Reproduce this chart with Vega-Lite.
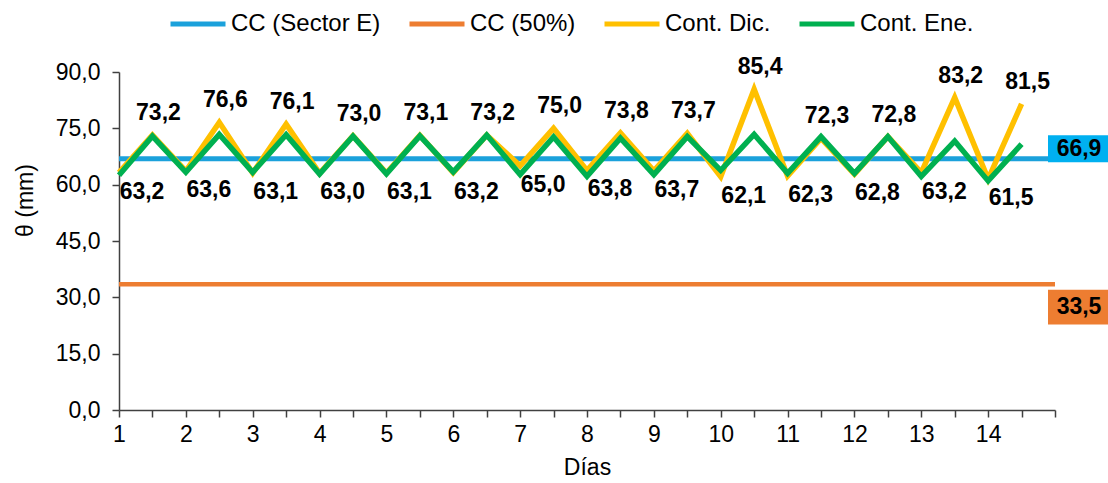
{
  "$schema": "https://vega.github.io/schema/vega-lite/v6.json",
  "width": 936,
  "height": 338,
  "autosize": "none",
  "padding": {"left": 119, "top": 72, "right": 53, "bottom": 73},
  "background": "white",
  "config": {
    "view": {"stroke": null},
    "font": "Liberation Sans",
    "locale": {"number": {"decimal": ",", "thousands": ".", "grouping": [3], "currency": ["", " €"]}}
  },
  "data": {
    "values": [
      {"serie": "CC (Sector E)", "dia": 1, "valor": 66.9},
      {"serie": "CC (Sector E)", "dia": 15, "valor": 66.9},
      {"serie": "CC (50%)", "dia": 1, "valor": 33.5},
      {"serie": "CC (50%)", "dia": 15, "valor": 33.5},
      {"serie": "Cont. Dic.", "dia": 1, "valor": 63.2},
      {"serie": "Cont. Dic.", "dia": 1.5, "valor": 73.2},
      {"serie": "Cont. Dic.", "dia": 2, "valor": 63.6},
      {"serie": "Cont. Dic.", "dia": 2.5, "valor": 76.6},
      {"serie": "Cont. Dic.", "dia": 3, "valor": 63.1},
      {"serie": "Cont. Dic.", "dia": 3.5, "valor": 76.1},
      {"serie": "Cont. Dic.", "dia": 4, "valor": 63.0},
      {"serie": "Cont. Dic.", "dia": 4.5, "valor": 73.0},
      {"serie": "Cont. Dic.", "dia": 5, "valor": 63.1},
      {"serie": "Cont. Dic.", "dia": 5.5, "valor": 73.1},
      {"serie": "Cont. Dic.", "dia": 6, "valor": 63.2},
      {"serie": "Cont. Dic.", "dia": 6.5, "valor": 73.2},
      {"serie": "Cont. Dic.", "dia": 7, "valor": 65.0},
      {"serie": "Cont. Dic.", "dia": 7.5, "valor": 75.0},
      {"serie": "Cont. Dic.", "dia": 8, "valor": 63.8},
      {"serie": "Cont. Dic.", "dia": 8.5, "valor": 73.8},
      {"serie": "Cont. Dic.", "dia": 9, "valor": 63.7},
      {"serie": "Cont. Dic.", "dia": 9.5, "valor": 73.7},
      {"serie": "Cont. Dic.", "dia": 10, "valor": 62.1},
      {"serie": "Cont. Dic.", "dia": 10.5, "valor": 85.4},
      {"serie": "Cont. Dic.", "dia": 11, "valor": 62.3},
      {"serie": "Cont. Dic.", "dia": 11.5, "valor": 72.3},
      {"serie": "Cont. Dic.", "dia": 12, "valor": 62.8},
      {"serie": "Cont. Dic.", "dia": 12.5, "valor": 72.8},
      {"serie": "Cont. Dic.", "dia": 13, "valor": 63.2},
      {"serie": "Cont. Dic.", "dia": 13.5, "valor": 83.2},
      {"serie": "Cont. Dic.", "dia": 14, "valor": 61.5},
      {"serie": "Cont. Dic.", "dia": 14.5, "valor": 81.5},
      {"serie": "Cont. Ene.", "dia": 1, "valor": 62.5},
      {"serie": "Cont. Ene.", "dia": 1.5, "valor": 72.9},
      {"serie": "Cont. Ene.", "dia": 2, "valor": 63.3},
      {"serie": "Cont. Ene.", "dia": 2.5, "valor": 73.4},
      {"serie": "Cont. Ene.", "dia": 3, "valor": 63.3},
      {"serie": "Cont. Ene.", "dia": 3.5, "valor": 73.3},
      {"serie": "Cont. Ene.", "dia": 4, "valor": 62.8},
      {"serie": "Cont. Ene.", "dia": 4.5, "valor": 72.9},
      {"serie": "Cont. Ene.", "dia": 5, "valor": 62.9},
      {"serie": "Cont. Ene.", "dia": 5.5, "valor": 73.0},
      {"serie": "Cont. Ene.", "dia": 6, "valor": 63.4},
      {"serie": "Cont. Ene.", "dia": 6.5, "valor": 73.2},
      {"serie": "Cont. Ene.", "dia": 7, "valor": 62.7},
      {"serie": "Cont. Ene.", "dia": 7.5, "valor": 72.7},
      {"serie": "Cont. Ene.", "dia": 8, "valor": 62.2},
      {"serie": "Cont. Ene.", "dia": 8.5, "valor": 72.4},
      {"serie": "Cont. Ene.", "dia": 9, "valor": 62.7},
      {"serie": "Cont. Ene.", "dia": 9.5, "valor": 72.8},
      {"serie": "Cont. Ene.", "dia": 10, "valor": 63.8},
      {"serie": "Cont. Ene.", "dia": 10.5, "valor": 73.4},
      {"serie": "Cont. Ene.", "dia": 11, "valor": 63.0},
      {"serie": "Cont. Ene.", "dia": 11.5, "valor": 72.8},
      {"serie": "Cont. Ene.", "dia": 12, "valor": 63.0},
      {"serie": "Cont. Ene.", "dia": 12.5, "valor": 72.8},
      {"serie": "Cont. Ene.", "dia": 13, "valor": 62.2},
      {"serie": "Cont. Ene.", "dia": 13.5, "valor": 71.6},
      {"serie": "Cont. Ene.", "dia": 14, "valor": 61.0},
      {"serie": "Cont. Ene.", "dia": 14.5, "valor": 70.8}
    ]
  },
  "encoding": {
    "x": {
      "field": "dia", "type": "quantitative",
      "scale": {"domain": [1, 15], "nice": false, "zero": false},
      "axis": {
        "title": "Días",
        "values": [1, 1.5, 2, 2.5, 3, 3.5, 4, 4.5, 5, 5.5, 6, 6.5, 7, 7.5, 8, 8.5, 9, 9.5, 10, 10.5, 11, 11.5, 12, 12.5, 13, 13.5, 14, 14.5, 15],
        "labelExpr": "(datum.value % 1 == 0 && datum.value < 15) ? datum.value : ''",
        "grid": false,
        "domainColor": "#404040", "domainWidth": 1.5,
        "tickColor": "#404040", "tickWidth": 1.5, "tickSize": 7,
        "labelFont": "Liberation Sans", "labelFontSize": 23, "labelColor": "#000000", "labelPadding": 6,
        "labelFlush": false, "labelOverlap": false,
        "titleFont": "Liberation Sans", "titleFontSize": 23, "titleFontWeight": "normal", "titleColor": "#000000", "titlePadding": 10
      }
    },
    "y": {
      "field": "valor", "type": "quantitative",
      "scale": {"domain": [0, 90], "nice": false},
      "axis": {
        "title": "θ (mm)",
        "values": [0, 15, 30, 45, 60, 75, 90],
        "format": ".1f",
        "grid": false,
        "domainColor": "#404040", "domainWidth": 1.5,
        "tickColor": "#404040", "tickWidth": 1.5, "tickSize": 7,
        "labelFont": "Liberation Sans", "labelFontSize": 23, "labelColor": "#000000", "labelPadding": 12,
        "titleFont": "Liberation Sans", "titleFontSize": 23, "titleFontWeight": "normal", "titleColor": "#000000",
        "titleX": -82, "titleY": 128
      }
    }
  },
  "layer": [
    {
      "transform": [{"filter": "datum.serie == 'CC (Sector E)'"}],
      "mark": {"type": "line", "strokeWidth": 5},
      "encoding": {
        "color": {
          "field": "serie", "type": "nominal",
          "scale": {"domain": ["CC (Sector E)", "CC (50%)", "Cont. Dic.", "Cont. Ene."], "range": ["#1BA1DB", "#ED7D31", "#FFC000", "#00B050"]},
          "legend": {
            "title": null, "orient": "none", "direction": "horizontal",
            "legendX": 49, "legendY": -78,
            "symbolType": "stroke", "symbolSize": 3025, "symbolStrokeWidth": 5,
            "labelFont": "Liberation Sans", "labelFontSize": 24, "labelColor": "#000000", "labelOffset": 3,
            "columnPadding": 18, "padding": 0, "labelLimit": 300
          }
        }
      }
    },
    {
      "transform": [{"filter": "datum.serie == 'CC (50%)'"}],
      "mark": {"type": "line", "strokeWidth": 4.5},
      "encoding": {"color": {"field": "serie", "type": "nominal"}}
    },
    {
      "transform": [{"filter": "datum.serie == 'Cont. Dic.'"}],
      "mark": {"type": "line", "strokeWidth": 5.5, "strokeJoin": "miter"},
      "encoding": {"color": {"field": "serie", "type": "nominal"}}
    },
    {
      "transform": [{"filter": "datum.serie == 'Cont. Ene.'"}],
      "mark": {"type": "line", "strokeWidth": 5.5, "strokeJoin": "miter"},
      "encoding": {"color": {"field": "serie", "type": "nominal"}}
    },
    {
      "transform": [{"filter": "datum.serie == 'Cont. Dic.' && datum.dia % 1 != 0"}],
      "mark": {"type": "text", "font": "Liberation Sans", "fontSize": 23, "fontWeight": "bold", "color": "#000000", "dx": 6, "dy": -22, "baseline": "middle", "align": "center"},
      "encoding": {"text": {"field": "valor", "type": "quantitative", "format": ".1f"}}
    },
    {
      "transform": [{"filter": "datum.serie == 'Cont. Dic.' && datum.dia % 1 == 0"}],
      "mark": {"type": "text", "font": "Liberation Sans", "fontSize": 23, "fontWeight": "bold", "color": "#000000", "dx": 23, "dy": 19, "baseline": "middle", "align": "center"},
      "encoding": {"text": {"field": "valor", "type": "quantitative", "format": ".1f"}}
    },
    {
      "transform": [{"filter": "datum.serie == 'CC (Sector E)' && datum.dia == 15"}],
      "mark": {"type": "point", "shape": "M-1,-0.45H1V0.45H-1Z", "size": 3600, "filled": true, "opacity": 1, "strokeWidth": 0, "color": "#00B0F0", "xOffset": 23, "yOffset": -10},
      "encoding": {}
    },
    {
      "transform": [{"filter": "datum.serie == 'CC (50%)' && datum.dia == 15"}],
      "mark": {"type": "point", "shape": "M-1,-0.58H1V0.58H-1Z", "size": 3600, "filled": true, "opacity": 1, "strokeWidth": 0, "color": "#ED7D31", "xOffset": 23, "yOffset": 23},
      "encoding": {}
    },
    {
      "transform": [{"filter": "datum.serie == 'CC (Sector E)' && datum.dia == 15"}],
      "mark": {"type": "text", "font": "Liberation Sans", "fontSize": 23, "fontWeight": "bold", "color": "#000000", "dx": 24, "dy": -10, "baseline": "middle", "align": "center"},
      "encoding": {"text": {"field": "valor", "type": "quantitative", "format": ".1f"}}
    },
    {
      "transform": [{"filter": "datum.serie == 'CC (50%)' && datum.dia == 15"}],
      "mark": {"type": "text", "font": "Liberation Sans", "fontSize": 23, "fontWeight": "bold", "color": "#000000", "dx": 24, "dy": 23, "baseline": "middle", "align": "center"},
      "encoding": {"text": {"field": "valor", "type": "quantitative", "format": ".1f"}}
    }
  ]
}
